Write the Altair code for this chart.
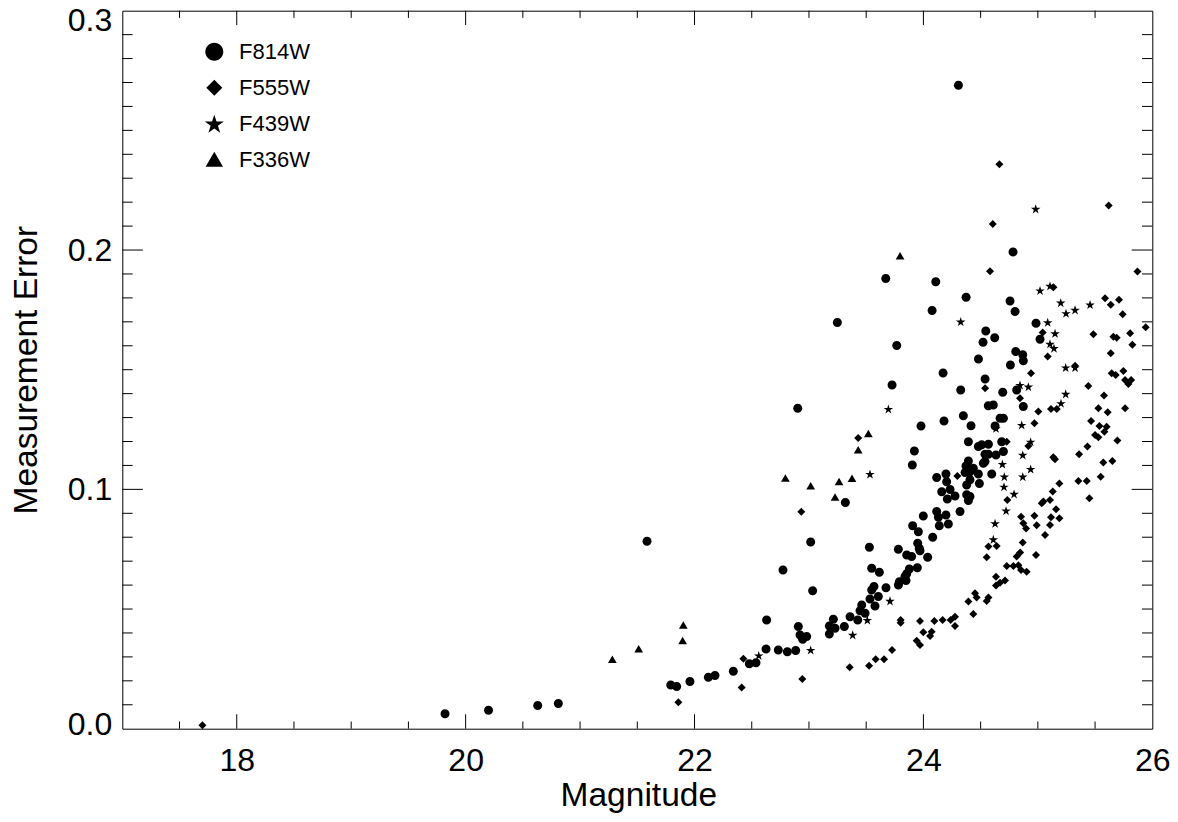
import altair as alt
import pandas as pd

# ---------------- data ----------------
f814w_mag = [19.82, 20.20, 20.63, 20.81, 21.585, 21.792, 21.844, 21.960, 22.121, 22.179,
             22.339, 22.479, 22.537, 22.625, 22.630, 22.732, 22.773, 22.811, 22.884, 22.902,
             22.907, 22.922, 22.945, 22.980, 23.015, 23.032, 23.178, 23.178, 23.213, 23.228,
             23.248, 23.309, 23.318, 23.359, 23.426, 23.446, 23.461, 23.490,
             23.979, 24.180, 24.349, 24.416, 24.567, 24.611, 24.699, 24.670, 24.626, 24.873,
             24.393, 23.921, 23.903, 24.480, 24.509, 24.568, 24.684, 24.699, 24.634, 24.538,
             24.567, 24.524, 24.538, 24.597, 24.393, 24.372, 24.436, 24.407, 24.364, 24.480,
             24.197, 24.116, 24.203, 24.407, 24.378, 24.489, 24.160, 24.233, 24.276, 24.209,
             24.378, 24.407, 24.393, 24.320, 24.116, 24.197, 24.131, 24.139, 24.218, 23.999,
             23.906, 23.956, 24.081, 23.528, 23.950, 23.964, 23.781, 23.854, 23.897, 23.970,
             24.037, 23.947, 23.548, 23.615, 23.877, 23.854, 23.839, 23.848, 23.790, 23.781,
             23.673, 23.568, 23.548, 23.533, 23.606, 23.577,
             24.306, 24.783, 23.671, 24.108, 24.373, 24.757, 24.801, 24.076, 24.545, 24.623,
             24.521, 23.767, 24.807, 24.481, 24.760, 24.172, 23.726, 24.539, 24.326, 24.693,
             24.815, 24.984, 25.019, 24.868, 24.873]
f814w_err = [0.0062, 0.0077, 0.0097, 0.0105, 0.0783, 0.0183, 0.0176, 0.0197, 0.0215, 0.0222,
             0.0240, 0.0271, 0.0276, 0.0333, 0.0454, 0.0329, 0.0663, 0.0322, 0.0327, 0.1339,
             0.0427, 0.0392, 0.0374, 0.0385, 0.0780, 0.0576, 0.0429, 0.0396, 0.0457, 0.0420,
             0.1697, 0.0427, 0.0945, 0.0468, 0.0454, 0.0493, 0.0517, 0.0482,
             0.1265, 0.1286, 0.1308, 0.1266, 0.1349, 0.1353, 0.1297, 0.1297, 0.1265, 0.1346,
             0.1199, 0.1160, 0.1102, 0.1179, 0.1186, 0.1189, 0.1199, 0.1158, 0.1144, 0.1147,
             0.1147, 0.1109, 0.1116, 0.1064, 0.1119, 0.1098, 0.1088, 0.1074, 0.1070, 0.1064,
             0.1064, 0.1050, 0.1032, 0.1040, 0.1018, 0.1025, 0.0990, 0.0999, 0.0972, 0.0960,
             0.0977, 0.0970, 0.0953, 0.0907, 0.0907, 0.0893, 0.0883, 0.0848, 0.0855, 0.0889,
             0.0848, 0.0823, 0.0800, 0.0758, 0.0775, 0.0754, 0.0750, 0.0726, 0.0719, 0.0744,
             0.0716, 0.0673, 0.0670, 0.0654, 0.0667, 0.0647, 0.0636, 0.0619, 0.0614, 0.0600,
             0.0589, 0.0594, 0.0580, 0.0542, 0.0552, 0.0513,
             0.2689, 0.1992, 0.1881, 0.1868, 0.1803, 0.1787, 0.1743, 0.1747, 0.1662, 0.1634,
             0.1615, 0.1601, 0.1576, 0.1545, 0.1520, 0.1486, 0.1436, 0.1461, 0.1415, 0.1406,
             0.1415, 0.1694, 0.1627, 0.1562, 0.1537]

f555w_mag = [17.70, 23.430, 22.933, 22.427, 22.412, 21.859, 22.942, 23.356,
             24.664, 24.606, 24.582, 24.539,
             25.619, 25.870, 25.136, 25.587, 25.637, 25.709, 25.741, 25.042, 25.086, 25.485,
             25.660, 25.689, 25.806, 25.942, 25.826, 25.637, 25.325, 24.940, 24.844, 25.441,
             25.578, 25.645, 25.680, 25.747, 25.762, 25.791, 25.815,
             23.525, 23.583, 23.656, 23.726, 23.801, 23.801, 23.941, 23.970, 23.999, 24.058,
             24.072, 23.970, 24.096, 24.168, 24.238, 24.276, 24.276, 24.297, 24.393, 24.436,
             24.451, 24.465, 24.553, 24.568, 24.553, 24.568, 24.640, 24.634, 24.634, 24.669,
             24.713, 24.728, 24.786, 24.830, 24.815, 24.845, 24.868, 24.853, 24.902, 24.984,
             25.063, 25.106, 25.188, 25.159, 25.115, 24.990, 24.970, 24.897, 24.873, 24.853,
             25.034, 25.048, 25.106, 25.130, 25.188, 25.135, 25.150, 25.354, 25.427, 25.450,
             25.549, 25.572, 25.651, 25.695, 25.360, 25.433, 25.500, 25.529, 25.581, 25.601,
             25.538, 25.465, 25.610, 25.529, 25.762, 25.004, 24.970, 24.917, 25.115, 25.165,
             24.728, 24.733]
f555w_err = [0.0014, 0.1215, 0.0906, 0.0292, 0.0172, 0.0111, 0.0208, 0.0257,
             0.2358, 0.2109, 0.1911, 0.1422,
             0.2186, 0.1910, 0.1844, 0.1799, 0.1771, 0.1792, 0.1732, 0.1655, 0.1555, 0.1648,
             0.1638, 0.1634, 0.1652, 0.1677, 0.1604, 0.1569, 0.1517, 0.1485, 0.1381, 0.1432,
             0.1392, 0.1485, 0.1478, 0.1495, 0.1457, 0.1440, 0.1457,
             0.0263, 0.0290, 0.0290, 0.0329, 0.0454, 0.0443, 0.0368, 0.0350, 0.0403, 0.0387,
             0.0405, 0.0450, 0.0450, 0.0454, 0.0454, 0.0468, 0.0429, 0.1056, 0.0531, 0.0479,
             0.0566, 0.0548, 0.0534, 0.0548, 0.0716, 0.0761, 0.0763, 0.0635, 0.0598, 0.0610,
             0.0619, 0.0680, 0.0680, 0.0683, 0.0719, 0.0736, 0.0778, 0.0663, 0.0656, 0.0726,
             0.0809, 0.0851, 0.0879, 0.0917, 0.0883, 0.0850, 0.0890, 0.0837, 0.0858, 0.0886,
             0.0942, 0.0949, 0.0956, 0.0991, 0.1025, 0.1134, 0.1126, 0.1035, 0.1035, 0.0963,
             0.1053, 0.1112, 0.1119, 0.1204, 0.1147, 0.1179, 0.1227, 0.1218, 0.1241, 0.1262,
             0.1265, 0.1286, 0.1322, 0.1339, 0.1339, 0.1325, 0.1276, 0.1181, 0.1336, 0.1336,
             0.1199, 0.0956]

f439w_mag = [22.561, 23.015, 23.382, 24.326,
             24.981, 25.019, 25.106, 25.200, 25.246, 25.325, 25.456, 25.086, 25.150, 25.106,
             25.141, 25.243, 25.325, 24.844, 24.917, 25.243,
             23.694, 23.533, 23.708, 23.510, 24.634, 24.859, 24.937, 24.868, 24.937, 24.868,
             24.690, 24.707, 24.704, 24.792, 24.722, 24.626, 24.611, 25.202]
f439w_err = [0.0306, 0.0329, 0.0392, 0.1701,
             0.2172, 0.1831, 0.1850, 0.1780, 0.1736, 0.1750, 0.1772, 0.1698, 0.1652, 0.1608,
             0.1590, 0.1509, 0.1509, 0.1436, 0.1429, 0.1399,
             0.1336, 0.1064, 0.0534, 0.0454, 0.1255, 0.1269, 0.1199, 0.1144, 0.1085, 0.1053,
             0.1106, 0.1053, 0.1011, 0.0981, 0.0911, 0.0858, 0.0791, 0.1360]

f336w_mag = [23.430, 22.794, 23.015, 23.263, 23.376, 23.228, 21.902, 21.896, 21.512, 21.282,
             23.519, 23.796]
f336w_err = [0.1165, 0.1046, 0.1014, 0.1032, 0.1045, 0.0967, 0.0432, 0.0368, 0.0333, 0.0289,
             0.1232, 0.1975]

bands = ["F814W", "F555W", "F439W", "F336W"]

x_label_values = [18, 20, 22, 24, 26]
y_label_values = [0.0, 0.1, 0.2, 0.3]
x_major = [18, 20, 22, 24]
x_minor = [17.5, 18.5, 19, 19.5, 20.5, 21, 21.5, 22.5, 23, 23.5, 24.5, 25, 25.5]
y_major = [0.1, 0.2]
y_minor = [0.01, 0.02, 0.03, 0.04, 0.05, 0.06, 0.07, 0.08, 0.09,
           0.11, 0.12, 0.13, 0.14, 0.15, 0.16, 0.17, 0.18, 0.19,
           0.21, 0.22, 0.23, 0.24, 0.25, 0.26, 0.27, 0.28, 0.29]

# ---------------- build table ----------------
rows = []
for band, xs, ys in zip(bands,
                        [f814w_mag, f555w_mag, f439w_mag, f336w_mag],
                        [f814w_err, f555w_err, f439w_err, f336w_err]):
    for xv, yv in zip(xs, ys):
        rows.append({"band": band, "mag": xv, "err": yv})
df = pd.DataFrame(rows)

W, H = 1030, 718
FONT = "Liberation Sans"

circle = "M0.9,0A0.9,0.9,0,1,1,-0.9,0A0.9,0.9,0,1,1,0.9,0Z"
diamond = "M0,-0.8L0.8,0L0,0.8L-0.8,0Z"
star = ("M0,-0.905L0.2245,-0.214L0.951,-0.214L0.363,0.213L0.588,0.904L0,0.477"
        "L-0.588,0.904L-0.363,0.213L-0.951,-0.214L-0.2245,-0.214Z")
triangle = "M0,-0.8L0.87,0.7L-0.87,0.7Z"

xscale = alt.Scale(domain=[17, 26], nice=False, zero=False)
yscale = alt.Scale(domain=[0, 0.3], nice=False, zero=False)

x_axis = alt.Axis(values=x_label_values, format="d", domain=False, ticks=False, tickSize=0,
                  grid=False, labelFontSize=32, labelFont=FONT, labelColor="black",
                  labelPadding=17, labelFlush=False, labelOverlap=False,
                  titleFontSize=33.5, titleFont=FONT, titleFontWeight="normal", titleColor="black",
                  titleX=516, titleY=77, titleBaseline="alphabetic")
y_axis = alt.Axis(values=y_label_values, format=".1f", domain=False, ticks=False, tickSize=0,
                  grid=False, labelFontSize=32, labelFont=FONT, labelColor="black",
                  labelPadding=10.6, labelFlush=False, labelOverlap=False,
                  labelOffset={"condition": [{"test": "datum.value > 0.25", "value": 10},
                                             {"test": "datum.value < 0.05", "value": -4}],
                               "value": 0},
                  titleFontSize=33.5, titleFont=FONT, titleFontWeight="normal", titleColor="black",
                  titleX=-86, titleY=359, titleAngle=270, titleBaseline="alphabetic")

points = alt.Chart(df).mark_point(filled=True, opacity=1, size=100, color="black",
                                  strokeWidth=0).encode(
    x=alt.X("mag:Q", scale=xscale, axis=x_axis, title="Magnitude"),
    y=alt.Y("err:Q", scale=yscale, axis=y_axis, title="Measurement Error"),
    shape=alt.Shape("band:N",
                    scale=alt.Scale(domain=bands, range=[circle, diamond, star, triangle]),
                    legend=alt.Legend(orient="none", legendX=81, legendY=30, title=None,
                                      symbolSize=400, symbolFillColor="black",
                                      symbolStrokeWidth=0, symbolOpacity=1,
                                      labelFontSize=22, labelFont=FONT, labelColor="black",
                                      labelOffset=13.7, rowPadding=14, padding=0)),
)


def xticks(vals, y0, y1):
    return alt.Chart(pd.DataFrame({"v": vals})).mark_rule(color="black", strokeWidth=1).encode(
        x=alt.X("v:Q", scale=xscale, axis=x_axis, title="Magnitude"),
        y=alt.value(y0), y2=alt.value(y1))


def yticks(vals, x0, x1):
    return alt.Chart(pd.DataFrame({"v": vals})).mark_rule(color="black", strokeWidth=1).encode(
        y=alt.Y("v:Q", scale=yscale, axis=y_axis, title="Measurement Error"),
        x=alt.value(x0), x2=alt.value(x1))


layers = [
    xticks(x_major, H, H - 14.4), xticks(x_minor, H, H - 7.2),
    xticks(x_major, 0, 14.4), xticks(x_minor, 0, 7.2),
    yticks(y_major, 0, 20.6), yticks(y_minor, 0, 10.3),
    yticks(y_major, W, W - 20.6), yticks(y_minor, W, W - 10.3),
    points,
]

chart = alt.layer(*layers).properties(
    width=W, height=H,
    autosize=alt.AutoSizeParams(type="none"),
    padding={"left": 114.3, "top": 2.7, "right": 17.7, "bottom": 85.3},
    background="white",
).configure_view(stroke="black", strokeWidth=1)

chart.save("out.html", embed_options={"renderer": "svg", "actions": False})
